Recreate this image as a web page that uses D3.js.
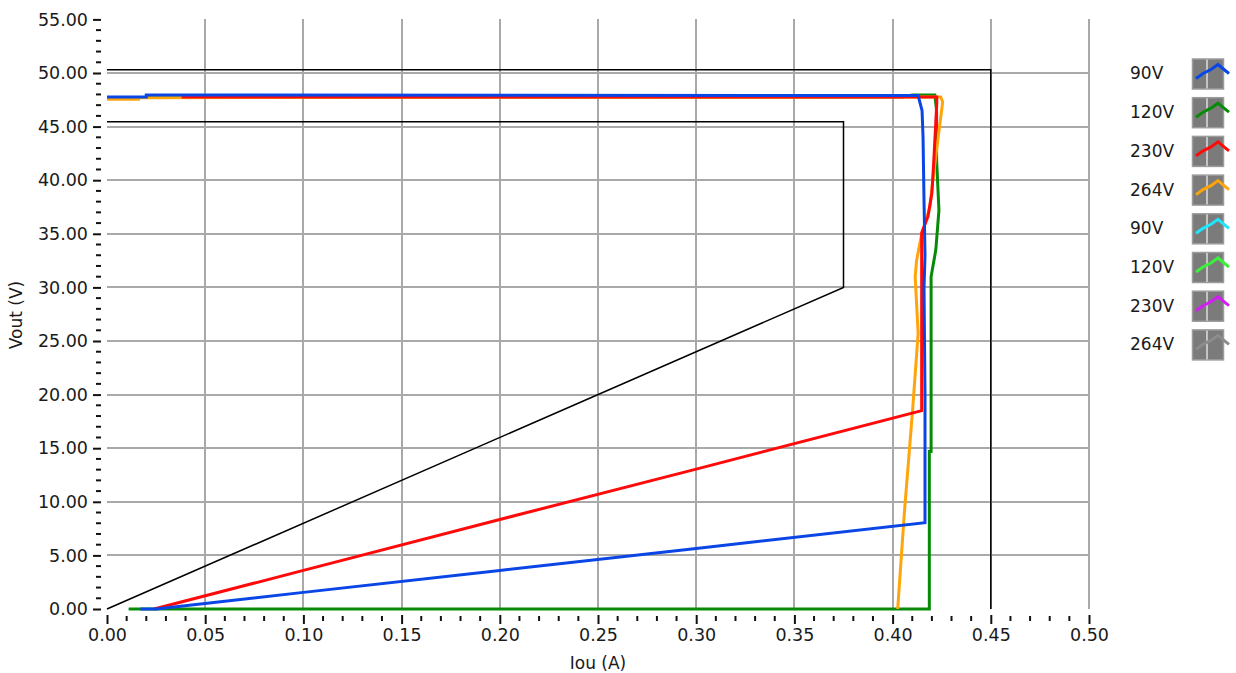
<!DOCTYPE html>
<html>
<head>
<meta charset="utf-8">
<script src="https://cdn.jsdelivr.net/npm/d3@7"></script>
<style>
  body { margin: 0; background: #fff; }
  text { font-family: "DejaVu Sans", sans-serif; fill: #1a1a1a; }
</style>
</head>
<body>
<svg id="chart" width="1236" height="673"></svg>
<script>
// axis ticks
const xTicks = [0, 0.05, 0.1, 0.15, 0.2, 0.25, 0.3, 0.35, 0.4, 0.45, 0.5];
const yTicks = [0, 5, 10, 15, 20, 25, 30, 35, 40, 45, 50, 55];

// legend entries (the last four are empty plots)
const legendNames = ['90V', '120V', '230V', '264V', '90V', '120V', '230V', '264V'];
const legendColors = ['#0a46e6', '#078a07', '#ff0a0a', '#ffa50a', '#1ee6ff', '#3cf03c', '#d21ef0', '#8c8c8c'];

// spec limit envelope (Iout A, Vout V)
const outerLimit = [[0, 50.3], [0.45, 50.3], [0.45, 0]];
const innerLimit = [[0, 45.45], [0.375, 45.45], [0.375, 30], [0, 0]];

// measured curves, [Iout, Vout]
const v90 = [[0.017, 0], [0.025, 0], [0.1, 1.55], [0.2, 3.6], [0.3, 5.65], [0.4165, 8.05],
  [0.4165, 20], [0.416, 30], [0.4165, 33], [0.416, 38], [0.4155, 44], [0.415, 46.5], [0.413, 47.9],
  [0.02, 47.95], [0.02, 47.75], [0, 47.75]];
const v120 = [[0.011, 0], [0.4187, 0], [0.4187, 14.7], [0.4196, 14.7], [0.4196, 31], [0.422, 33.5],
  [0.4236, 37.2], [0.4224, 41.9], [0.4224, 46.5], [0.4215, 47.95], [0.41, 47.95], [0.405, 47.75],
  [0.02, 47.75]];
const v230 = [[0.024, 0], [0.1, 3.6], [0.2, 8.35], [0.3, 13.05], [0.4148, 18.5], [0.4148, 31],
  [0.4148, 35.1], [0.418, 36.6], [0.42, 38.8], [0.421, 41.9], [0.4225, 47.2], [0.4225, 47.75],
  [0.038, 47.75]];
const v264 = [[0.4026, 0], [0.406, 9], [0.4102, 18.6], [0.413, 25.7], [0.4115, 31], [0.4122, 32.5],
  [0.4145, 34.7], [0.419, 37.5], [0.4205, 40], [0.423, 43.7], [0.4255, 47.3], [0.4245, 47.75],
  [0.37, 47.75], [0.016, 47.7], [0.016, 47.55], [0, 47.55]];

const curves = [
  { pts: v120, color: legendColors[1] },
  { pts: v264, color: legendColors[3] },
  { pts: v230, color: legendColors[2] },
  { pts: v90, color: legendColors[0] }
];

const svg = d3.select('#chart');

const x = d3.scaleLinear().domain([0, 0.5]).range([107, 1089]);
const y = d3.scaleLinear().domain([0, 55]).range([609, 19.4]);

// grid
svg.append('g').selectAll('line').data(xTicks.filter(d => d > 0)).enter()
  .append('line')
  .attr('x1', d => Math.round(x(d))).attr('x2', d => Math.round(x(d)))
  .attr('y1', y(55)).attr('y2', y(0))
  .attr('stroke', '#a9a9a9').attr('stroke-width', 2)
  .attr('shape-rendering', 'crispEdges');

svg.append('g').selectAll('line').data(yTicks.filter(d => d > 0 && d < 55)).enter()
  .append('line')
  .attr('x1', x(0)).attr('x2', x(0.5))
  .attr('y1', d => Math.round(y(d))).attr('y2', d => Math.round(y(d)))
  .attr('stroke', '#a9a9a9').attr('stroke-width', 2)
  .attr('shape-rendering', 'crispEdges');

// y axis: ticks outward, set off from the plot
const yAxis = d3.axisLeft(y).tickValues(yTicks).tickFormat(d3.format('.2f'))
  .tickSize(8).tickPadding(5);
const yAxisG = svg.append('g').attr('transform', 'translate(101,0)').call(yAxis);
yAxisG.select('.domain').remove();
yAxisG.selectAll('.tick line').attr('stroke', '#111').attr('stroke-width', 2);
yAxisG.selectAll('text').style('font-size', '17.5px').attr('fill', '#1a1a1a');

const yMinor = d3.range(0, 55.01, 1).filter(d => d % 5 !== 0);
svg.append('g').selectAll('line').data(yMinor).enter()
  .append('line')
  .attr('x1', 96).attr('x2', 101)
  .attr('y1', d => y(d)).attr('y2', d => y(d))
  .attr('stroke', '#111').attr('stroke-width', 2);

// x axis
const xAxis = d3.axisBottom(x).tickValues(xTicks).tickFormat(d3.format('.2f'))
  .tickSize(9).tickPadding(5);
const xAxisG = svg.append('g').attr('transform', 'translate(0,615)').call(xAxis);
xAxisG.select('.domain').remove();
xAxisG.selectAll('.tick line').attr('stroke', '#111').attr('stroke-width', 2);
xAxisG.selectAll('text').style('font-size', '17.5px').attr('fill', '#1a1a1a');

const xMinor = d3.range(0, 0.5001, 0.01).filter(d => Math.round(d * 100) % 5 !== 0);
svg.append('g').selectAll('line').data(xMinor).enter()
  .append('line')
  .attr('x1', d => x(d)).attr('x2', d => x(d))
  .attr('y1', 616).attr('y2', 621)
  .attr('stroke', '#111').attr('stroke-width', 2);

// axis titles
svg.append('text').attr('x', 598).attr('y', 669).attr('text-anchor', 'middle')
  .style('font-size', '17px').text('Iou (A)');
svg.append('text').attr('transform', 'translate(22,315) rotate(-90)').attr('text-anchor', 'middle')
  .style('font-size', '17px').text('Vout (V)');

const line = d3.line().x(d => x(d[0])).y(d => y(d[1]));

// limit lines
[outerLimit, innerLimit].forEach(p => {
  svg.append('path').attr('d', line(p))
    .attr('fill', 'none').attr('stroke', '#000').attr('stroke-width', 1.5);
});

// curves
curves.forEach(c => {
  svg.append('path').attr('d', line(c.pts))
    .attr('fill', 'none').attr('stroke', c.color).attr('stroke-width', 3)
    .attr('stroke-linejoin', 'miter');
});

// legend
const leg = svg.append('g').selectAll('g').data(legendNames).enter()
  .append('g')
  .attr('transform', (d, i) => `translate(0,${73.5 + i * 38.7})`);

leg.append('text').attr('x', 1130).attr('y', 0).attr('dy', '0.35em')
  .style('font-size', '17px').text(d => d);

leg.append('rect').attr('x', 1192.5).attr('y', -14.5).attr('width', 31).attr('height', 30)
  .attr('fill', '#7b7b7b').attr('stroke', '#9c9c9c').attr('stroke-width', 1.5);
leg.append('line').attr('x1', 1207).attr('x2', 1207).attr('y1', -14).attr('y2', 15)
  .attr('stroke', '#c4c4c4').attr('stroke-width', 2);
leg.append('path')
  .attr('d', 'M1196,5 L1203,0 L1211,-4 L1218,-9 L1224,-4 L1229,0')
  .attr('fill', 'none').attr('stroke', (d, i) => legendColors[i]).attr('stroke-width', 3);
</script>
</body>
</html>
